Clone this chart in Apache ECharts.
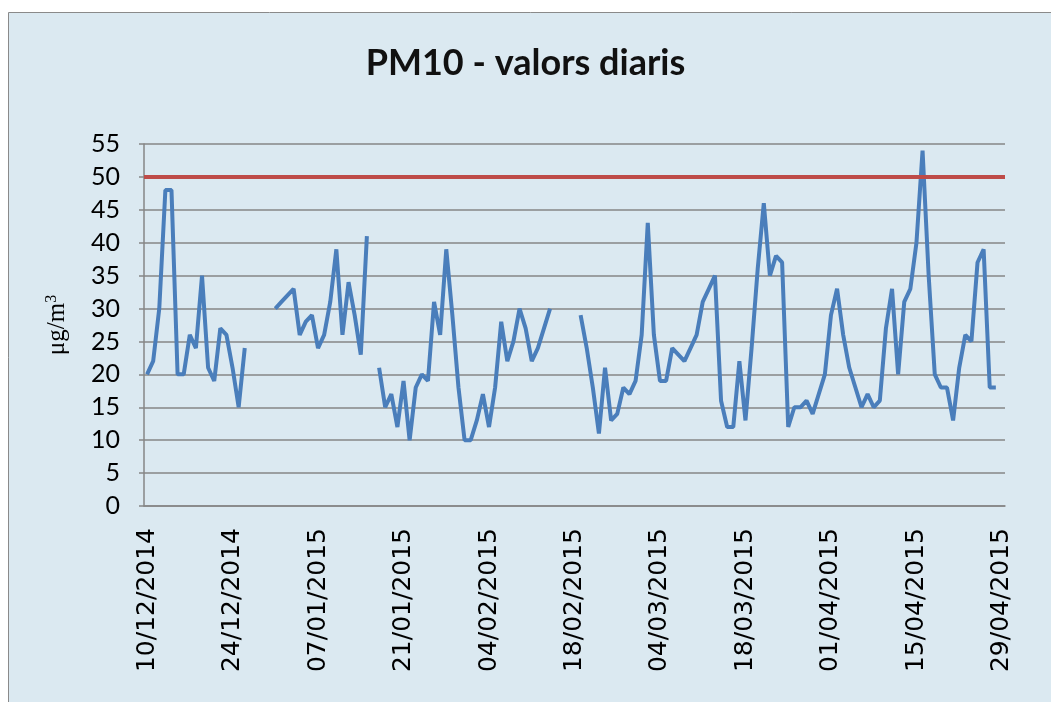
<!DOCTYPE html>
<html lang="ca">
<head>
    <meta charset="UTF-8">
    <title>PM10 - valors diaris</title>
    <style>
        html, body { margin: 0; padding: 0; background: #fff; }
        #chart { width: 1051px; height: 702px; }
    </style>
</head>
<body>
<div id="chart"></div>
<script src="https://cdn.jsdelivr.net/npm/echarts@6/dist/echarts.min.js"></script>
<script>
    // daily PM10 values, one array per month (null = no data)
    var dec2014 = [20, 22, 30, 48, 48, 20, 20, 26, 24, 35, 21, 19, 27, 26, 21, 15, 24, null, null, null, null, 30];
    var jan2015 = [31, 32, 33, 26, 28, 29, 24, 26, 31, 39, 26, 34, 29, 23, 41, null, 21, 15, 17, 12, 19, 10, 18, 20, 19, 31, 26, 39, 29, 18, 10];
    var feb2015 = [10, 13, 17, 12, 18, 28, 22, 25, 30, 27, 22, 24, 27, 30, null, null, null, null, 29, 24, 18, 11, 21, 13, 14, 18, 17, 19];
    var mar2015 = [26, 43, 26, 19, 19, 24, 23, 22, 24, 26, 31, 33, 35, 16, 12, 12, 22, 13, 24, 36, 46, 35, 38, 37, 12, 15, 15, 16, 14, 17, 20];
    var apr2015 = [29, 33, 26, 21, 18, 15, 17, 15, 16, 27, 33, 20, 31, 33, 40, 54, 35, 20, 18, 18, 13, 21, 26, 25, 37, 39, 18, 18, null];

    var pm10 = dec2014.concat(jan2015, feb2015, mar2015, apr2015);
    var limitValue = 50;

    // one category per day, from 10/12/2014
    var firstDay = new Date(2014, 11, 10);
    var days = [];
    for (var i = 0; i < pm10.length; i++) {
        var d = new Date(firstDay.getFullYear(), firstDay.getMonth(), firstDay.getDate() + i);
        var dd = ('0' + d.getDate()).slice(-2);
        var mm = ('0' + (d.getMonth() + 1)).slice(-2);
        days.push(dd + '/' + mm + '/' + d.getFullYear());
    }

    var gridColor = '#868686';
    var myChart = echarts.init(document.getElementById('chart'));
    var option = {
        backgroundColor: '#fff',
        animation: false,
        graphic: [{
            type: 'rect',
            z: -100,
            silent: true,
            shape: { x: 8.5, y: 12.5, width: 1060, height: 700 },
            style: { fill: '#dbe9f1', stroke: '#8a8a8a', lineWidth: 1 }
        }],
        title: {
            text: 'PM10 - valors diaris',
            left: 'center',
            top: 40,
            textStyle: {
                fontFamily: 'Lato',
                fontSize: 36,
                fontWeight: 'bold',
                color: '#111'
            }
        },
        grid: { left: 144, right: 46, top: 144, bottom: 196 },
        xAxis: {
            type: 'category',
            data: days,
            boundaryGap: true,
            axisLine: { lineStyle: { color: gridColor, width: 1.5 } },
            axisTick: { show: false },
            axisLabel: {
                interval: 13,
                rotate: 90,
                margin: 22,
                fontFamily: 'DejaVu Sans',
                fontSize: 25,
                color: '#000'
            },
            splitLine: { show: false }
        },
        yAxis: {
            type: 'value',
            min: 0,
            max: 55,
            interval: 5,
            name: '{a|μg/m}{s|3}',
            nameLocation: 'middle',
            nameRotate: 90,
            nameGap: 74,
            nameTextStyle: {
                rich: {
                    a: { fontFamily: 'Liberation Serif', fontSize: 25, color: '#000' },
                    s: { fontFamily: 'Liberation Serif', fontSize: 16, color: '#000', verticalAlign: 'top', padding: [0, 0, 10, 0] }
                }
            },
            axisLine: { show: true, lineStyle: { color: gridColor, width: 1.5 } },
            axisTick: { show: true, inside: false, length: 5, lineStyle: { color: gridColor, width: 1.5 } },
            axisLabel: {
                margin: 24,
                fontFamily: 'Lato',
                fontSize: 25,
                color: '#000'
            },
            splitLine: { lineStyle: { color: gridColor, width: 1.5 } }
        },
        series: [{
            name: 'PM10',
            type: 'line',
            data: pm10,
            showSymbol: false,
            connectNulls: false,
            lineStyle: { color: '#4a7ebb', width: 4 },
            itemStyle: { color: '#4a7ebb' },
            markLine: {
                silent: true,
                symbol: 'none',
                label: { show: false },
                lineStyle: { color: '#be4b48', width: 4, type: 'solid' },
                data: [{ yAxis: limitValue }]
            }
        }]
    };
    myChart.setOption(option);
</script>
</body>
</html>
